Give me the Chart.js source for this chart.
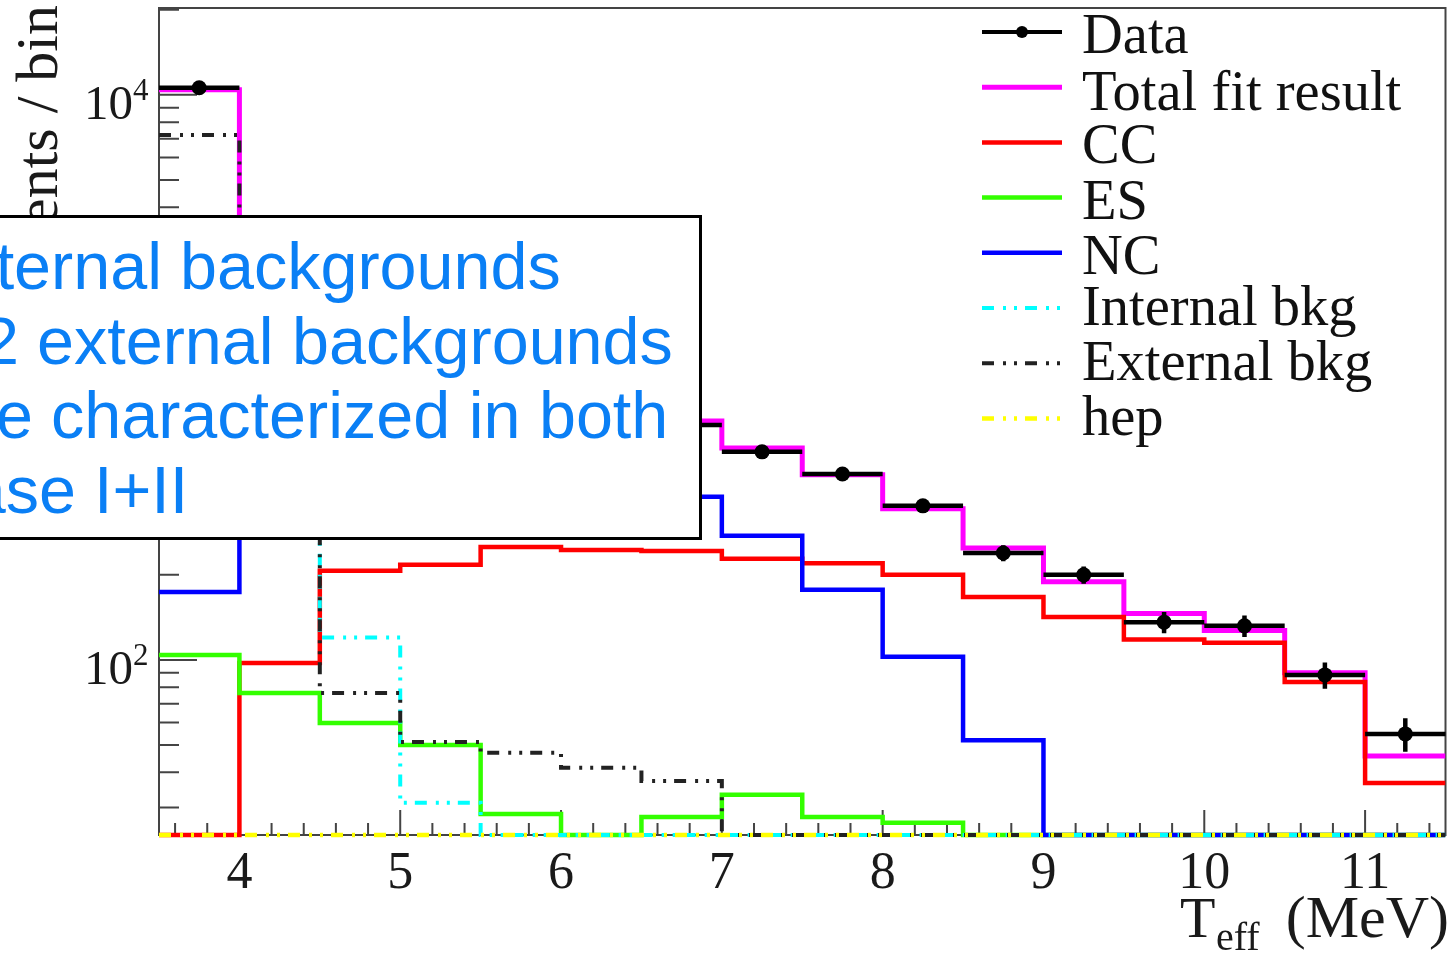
<!DOCTYPE html>
<html>
<head>
<meta charset="utf-8">
<title>T_eff spectrum fit</title>
<script src="https://cdn.jsdelivr.net/npm/chart.js@4.4.1/dist/chart.umd.min.js"></script>
<style>
  html, body { margin: 0; padding: 0; background: #fff; overflow: hidden; }
  #wrap { position: relative; width: 1453px; height: 954px; }
  #chart, #note { position: absolute; left: 0; top: 0; }
</style>
</head>
<body>
<div id="wrap">
  <canvas id="chart" width="1453" height="954"></canvas>
  <svg id="note" width="1453" height="954" xmlns="http://www.w3.org/2000/svg">
    <rect x="-10" y="216.5" width="710.5" height="322" fill="#fff" stroke="#000" stroke-width="3"/>
    <g font-family="'Liberation Sans', Arial, sans-serif" font-size="66.5" fill="#0a7ff5">
      <text x="162" y="289" text-anchor="end">internal</text>
      <text x="180" y="289">backgrounds</text>
      <text x="19" y="364" text-anchor="end">12</text>
      <text x="37" y="364">external backgrounds</text>
      <text x="33" y="438" text-anchor="end">are</text>
      <text x="51" y="438">characterized in both</text>
      <text x="76" y="513" text-anchor="end">Phase</text>
      <text x="94" y="513">I+II</text>
    </g>
  </svg>
</div>
<script>
// bin edges in MeV (16 bins of 0.5 MeV)
const BIN_EDGES = [3.5, 4, 4.5, 5, 5.5, 6, 6.5, 7, 7.5, 8, 8.5, 9, 9.5, 10, 10.5, 11, 11.5];

// events per bin
const DATA_COUNTS  = [10600, 2300, 960, 830, 790, 700, 679, 545, 455, 351, 239, 200, 136, 132, 88.5, 54.7];
const DATA_ERRORS  = [103, 48, 31, 29, 28, 26.5, 26, 23.3, 21.3, 18.7, 15.5, 14.1, 11.7, 11.5, 9.4, 7.4];
const TOTAL_FIT    = [10420, 2280, 950, 820, 780, 705, 701, 562, 452, 343, 249, 189, 146, 127, 90, 45.7];
const CC           = [0, 97.6, 207, 217, 251, 245, 243, 228, 220, 200, 167, 142, 118, 115, 83.6, 36.7];
const ES           = [104, 76.4, 59.8, 50, 28.5, 0, 27.8, 33.3, 27.8, 26.5, 0, 0, 0, 0, 0, 0];
const NC           = [174, 520, 480, 470, 455, 420, 378, 275, 177, 102.5, 52, 0, 0, 0, 0, 0];
const INTERNAL_BKG = [1500, 900, 120, 31.2, 0, 0, 0, 0, 0, 0, 0, 0, 0, 0, 0, 0];
const EXTERNAL_BKG = [7210, 700, 76.4, 51.2, 46.9, 41.5, 37.3, 0, 0, 0, 0, 0, 0, 0, 0, 0];
const HEP          = [0, 0, 0, 0, 0, 0, 0, 0, 0, 0, 0, 0, 0, 0, 0, 0];

// axes
const X_MIN = 3.5, X_MAX = 11.5;
const Y_MIN = 24, Y_MAX = 20300;
const X_TICK_VALUES = [4, 5, 6, 7, 8, 9, 10, 11];
const X_TICK_LABELS = ['4', '5', '6', '7', '8', '9', '10', '11'];
const Y_TICK_VALUES = [100, 1000, 10000];
const Y_TICK_EXPONENTS = ['2', '3', '4'];

const SERIF = "'Liberation Serif', 'Times New Roman', serif";
const DASH_DOT_DOT = [12, 9, 3, 8, 3, 8];

// empty bins sit on the floor of the log axis, like ROOT does
function histPoints(values) {
  return BIN_EDGES.map((x, i) => {
    const v = values[Math.min(i, values.length - 1)];
    return { x, y: v > 0 ? v : Y_MIN };
  });
}

function histDataset(label, values, color, width, order, dash) {
  return {
    label,
    data: histPoints(values),
    borderColor: color,
    backgroundColor: color,
    borderWidth: width,
    borderDash: dash || [],
    borderCapStyle: 'butt',
    borderJoinStyle: 'miter',
    stepped: 'before',
    pointRadius: 0,
    fill: false,
    order,
    clip: { left: 0, top: 0, right: 0, bottom: 6 },
  };
}

const binCenters = BIN_EDGES.slice(0, -1).map((e, i) => (e + BIN_EDGES[i + 1]) / 2);

const datasets = [
  {
    label: 'Data',
    data: DATA_COUNTS.map((v, i) => ({ x: binCenters[i], y: v })),
    showLine: false,
    borderColor: '#000',
    backgroundColor: '#000',
    pointRadius: 7.5,
    pointBorderWidth: 0,
    isData: true,
    order: 0,
  },
  histDataset('Total fit result', TOTAL_FIT, '#ff00ff', 5, 7),
  histDataset('CC', CC, '#ff0000', 4.5, 6),
  histDataset('ES', ES, '#33ff00', 4.5, 5),
  histDataset('NC', NC, '#0000ff', 4.5, 4),
  histDataset('Internal bkg', INTERNAL_BKG, '#00ffff', 4, 3, DASH_DOT_DOT),
  histDataset('External bkg', EXTERNAL_BKG, '#222222', 4, 2, DASH_DOT_DOT),
  histDataset('hep', HEP, '#ffff00', 4.5, 1, DASH_DOT_DOT),
];

// frame, inward ticks and axis labels
const frameAxes = {
  id: 'frameAxes',
  beforeDatasetsDraw(chart) {
    const { ctx, chartArea: a, scales: { x, y } } = chart;
    ctx.save();
    ctx.strokeStyle = '#444';
    ctx.lineWidth = 2;
    ctx.beginPath();
    for (let k = 18; k <= 57; k++) {
      const v = k / 5;
      const px = x.getPixelForValue(v);
      const len = k % 5 === 0 ? 25 : 12;
      ctx.moveTo(px, a.bottom);
      ctx.lineTo(px, a.bottom - len);
    }
    for (let dec = 10; dec <= 10000; dec *= 10) {
      for (let m = 1; m <= 9; m++) {
        const v = dec * m;
        if (v < Y_MIN || v > Y_MAX) continue;
        const py = y.getPixelForValue(v);
        ctx.moveTo(a.left, py);
        ctx.lineTo(a.left + (m === 1 ? 38 : 20), py);
      }
    }
    ctx.stroke();
    ctx.strokeRect(a.left, a.top, a.right - a.left, a.bottom - a.top);

    ctx.fillStyle = '#1a1a1a';
    ctx.textAlign = 'center';
    ctx.textBaseline = 'alphabetic';
    ctx.font = `52px ${SERIF}`;
    X_TICK_VALUES.forEach((v, i) => {
      ctx.fillText(X_TICK_LABELS[i], x.getPixelForValue(v), 888);
    });

    Y_TICK_VALUES.forEach((v, i) => {
      const py = y.getPixelForValue(v);
      ctx.textAlign = 'right';
      ctx.font = `49px ${SERIF}`;
      ctx.fillText('10', 133, py + 24);
      ctx.textAlign = 'left';
      ctx.font = `31px ${SERIF}`;
      ctx.fillText(Y_TICK_EXPONENTS[i], 133, py + 5);
    });

    // x title: T_eff (MeV)
    ctx.textAlign = 'left';
    ctx.font = `58px ${SERIF}`;
    ctx.fillText('T', 1180, 937);
    ctx.font = `40px ${SERIF}`;
    ctx.fillText('eff', 1216, 950);
    ctx.textAlign = 'right';
    ctx.font = `60px ${SERIF}`;
    ctx.fillText('(MeV)', 1449, 937);

    // y title, rotated, aligned to the top of the axis
    ctx.save();
    ctx.translate(57, 5);
    ctx.rotate(-Math.PI / 2);
    ctx.textAlign = 'right';
    ctx.font = `60px ${SERIF}`;
    ctx.fillText('Events / bin', 0, 0);
    ctx.restore();

    ctx.restore();
  },
};

// horizontal bin-width bars and vertical error bars under the data markers
const dataBars = {
  id: 'dataBars',
  beforeDatasetDraw(chart, args) {
    if (!chart.data.datasets[args.index].isData) return;
    const { ctx, scales: { x, y } } = chart;
    ctx.save();
    ctx.strokeStyle = '#000';
    ctx.lineWidth = 4.5;
    ctx.lineCap = 'butt';
    ctx.beginPath();
    DATA_COUNTS.forEach((v, i) => {
      const py = y.getPixelForValue(v);
      ctx.moveTo(x.getPixelForValue(BIN_EDGES[i]), py);
      ctx.lineTo(x.getPixelForValue(BIN_EDGES[i + 1]), py);
      const cx = x.getPixelForValue(binCenters[i]);
      ctx.moveTo(cx, y.getPixelForValue(v + DATA_ERRORS[i]));
      ctx.lineTo(cx, y.getPixelForValue(v - DATA_ERRORS[i]));
    });
    ctx.stroke();
    ctx.restore();
  },
};

// ROOT-style legend inside the frame, top right
const rootLegend = {
  id: 'rootLegend',
  afterDatasetsDraw(chart) {
    const { ctx } = chart;
    const x0 = 982, x1 = 1062, textX = 1082, top = 32, row = 55.2;
    ctx.save();
    ctx.font = `56.5px ${SERIF}`;
    ctx.textAlign = 'left';
    ctx.textBaseline = 'alphabetic';
    chart.data.datasets.forEach((ds, i) => {
      const yc = top + i * row;
      ctx.strokeStyle = ds.borderColor;
      ctx.lineWidth = ds.isData ? 4 : ds.borderWidth;
      ctx.setLineDash(ds.borderDash || []);
      ctx.beginPath();
      ctx.moveTo(x0, yc);
      ctx.lineTo(x1, yc);
      ctx.stroke();
      ctx.setLineDash([]);
      if (ds.isData) {
        ctx.fillStyle = '#000';
        ctx.beginPath();
        ctx.arc((x0 + x1) / 2, yc, 6, 0, Math.PI * 2);
        ctx.fill();
      }
      const m = ctx.measureText(ds.label);
      const base = yc + (m.actualBoundingBoxAscent - m.actualBoundingBoxDescent) / 2 + 2.5;
      ctx.fillStyle = '#111';
      ctx.fillText(ds.label, textX, base);
    });
    ctx.restore();
  },
};

new Chart(document.getElementById('chart').getContext('2d'), {
  type: 'line',
  data: { datasets },
  options: {
    responsive: false,
    animation: false,
    devicePixelRatio: 1,
    events: [],
    layout: { padding: { left: 159, right: 3, top: 8, bottom: 119 } },
    plugins: {
      legend: { display: false },
      tooltip: { enabled: false },
    },
    scales: {
      x: { type: 'linear', min: X_MIN, max: X_MAX, bounds: 'data', display: false },
      y: { type: 'logarithmic', min: Y_MIN, max: Y_MAX, bounds: 'data', display: false },
    },
  },
  plugins: [frameAxes, dataBars, rootLegend],
});
</script>
</body>
</html>
